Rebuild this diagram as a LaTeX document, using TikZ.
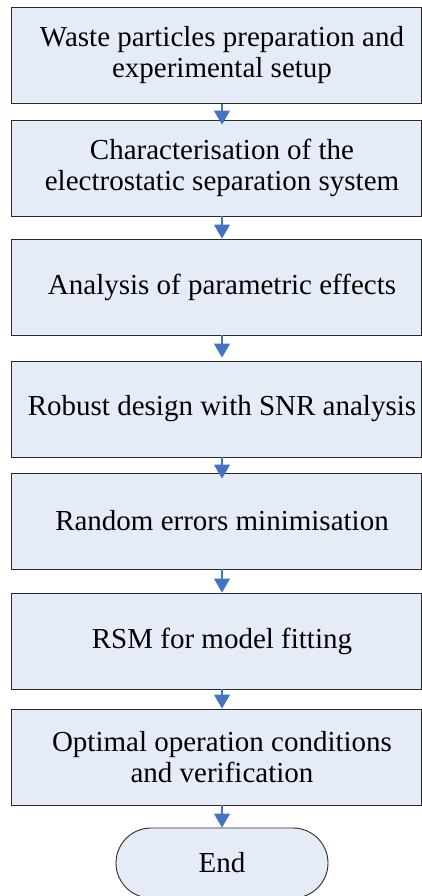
\documentclass[tikz,border=0pt]{standalone}
\usepackage{fontspec}
\setmainfont{Liberation Serif}
\usetikzlibrary{arrows.meta}

\definecolor{boxfill}{HTML}{E6ECF7}
\definecolor{boxline}{HTML}{2B2B2B}
\definecolor{flowblue}{HTML}{4472C4}

\tikzset{
  stagebox/.style={draw=boxline, line width=0.9pt, fill=boxfill,
    minimum width=410pt, minimum height=96pt, inner sep=0pt},
  stagetext/.style={align=center, inner sep=0pt,
    font=\fontsize{29}{31}\selectfont},
  endbox/.style={draw=boxline, line width=0.9pt, fill=boxfill,
    rounded corners=35pt, minimum width=212pt, minimum height=70pt,
    inner sep=0pt, font=\fontsize{29}{31}\selectfont},
  flow/.style={draw=flowblue, line width=1.2pt,
    -{Triangle[length=14pt,width=16pt,fill=flowblue]}},
}

\begin{document}
\begin{tikzpicture}[x=1pt, y=-1pt]
  \useasboundingbox (0,0) rectangle (422,896);

  % process stages
  \node[stagebox] (b1) at (216,55.5) {};
  \node[stagetext] (t1) at (222,55.5) {Waste particles preparation and\\experimental setup};

  \node[stagebox] (b2) at (216,168) {};
  \node[stagetext] (t2) at (222,168) {Characterisation of the\\electrostatic separation system};

  \node[stagebox] (b3) at (216,287) {};
  \node[stagetext] (t3) at (222,287) {Analysis of parametric effects};

  \node[stagebox] (b4) at (216,409) {};
  \node[stagetext] (t4) at (222,409) {Robust design with SNR analysis};

  \node[stagebox] (b5) at (216,521) {};
  \node[stagetext] (t5) at (222,521) {Random errors minimisation};

  \node[stagebox] (b6) at (216,641) {};
  \node[stagetext] (t6) at (222,641) {RSM for model fitting};

  \node[stagebox] (b7) at (216,757) {};
  \node[stagetext] (t7) at (222,757) {Optimal operation conditions\\and verification};

  % terminal
  \node[endbox] (end) at (222,863) {End};

  % connectors
  \draw[flow, shorten >=-5pt] (b1.south -| t1) -- (b2.north -| t1);
  \draw[flow] (b2.south -| t2) -- (b3.north -| t2);
  \draw[flow, shorten >=3pt] (b3.south -| t3) -- (b4.north -| t3);
  \draw[flow, shorten >=-6pt] (b4.south -| t4) -- (b5.north -| t4);
  \draw[flow] (b5.south -| t5) -- (b6.north -| t5);
  \draw[flow] (b6.south -| t6) -- (b7.north -| t6);
  \draw[flow] (b7.south -| t7) -- (end.north);
\end{tikzpicture}
\end{document}
